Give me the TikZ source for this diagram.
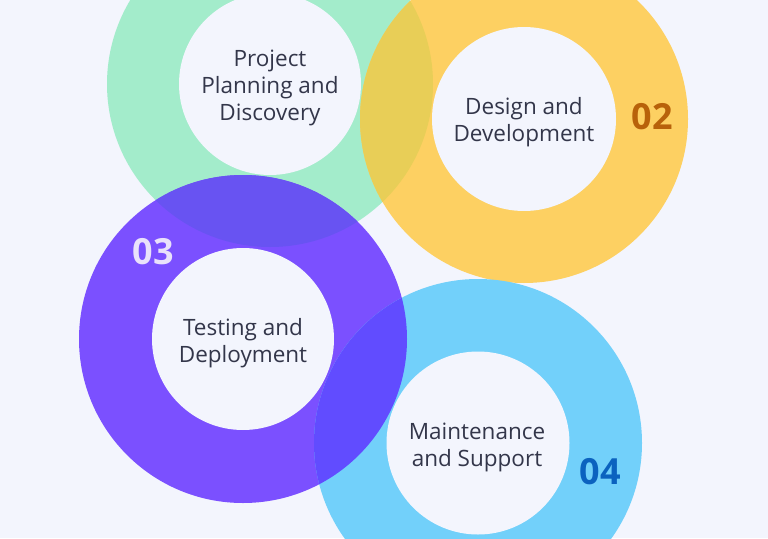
\documentclass[tikz,border=0pt]{standalone}
\usepackage{fontspec}
\setmainfont{Open Sans}
\definecolor{bg}{HTML}{F3F5FD}
\definecolor{ringgreen}{HTML}{A3ECCB}
\definecolor{ringyellow}{HTML}{FDD062}
\definecolor{ringpurple}{HTML}{7B50FF}
\definecolor{ringblue}{HTML}{72D0FA}
\definecolor{ovgy}{HTML}{E8CE57}
\definecolor{ovgp}{HTML}{6853F2}
\definecolor{ovpb}{HTML}{614CFF}
\definecolor{txt}{HTML}{33364A}
\definecolor{numorange}{HTML}{B8620A}
\definecolor{numlight}{HTML}{E9E1FB}
\definecolor{numblue}{HTML}{0B62BF}
\begin{document}
\begin{tikzpicture}[x=1pt,y=-1pt,
  steplabel/.style={align=center,text=txt,font=\fontsize{22.5}{27}\selectfont,inner sep=0pt},
  stepnum/.style={font=\fontsize{36}{36}\selectfont\bfseries,inner sep=0pt}]
\fill[bg] (0,0) rectangle (768,538);
\useasboundingbox (0,0) rectangle (768,538);
% centres
\coordinate (cg) at (270,84);
\coordinate (cy) at (524,119);
\coordinate (cp) at (243,339);
\coordinate (cb) at (478,443);
% outer discs
\fill[ringgreen] (cg) circle[radius=163pt];
\fill[ringyellow] (cy) circle[radius=164pt];
\fill[ringpurple] (cp) circle[radius=164pt];
\fill[ringblue] (cb) circle[radius=164pt];
% overlaps
\begin{scope}
  \clip (cg) circle[radius=163pt];
  \fill[ovgy] (cy) circle[radius=164pt];
  \fill[ovgp] (cp) circle[radius=164pt];
\end{scope}
\begin{scope}
  \clip (cp) circle[radius=164pt];
  \fill[ovpb] (cb) circle[radius=164pt];
\end{scope}
% inner holes
\fill[bg] (cg) circle[radius=91pt];
\fill[bg] (cy) circle[radius=92pt];
\fill[bg] (cp) circle[radius=91pt];
\fill[bg] (cb) circle[radius=91.5pt];
% labels
\node[steplabel] (l1) at (270,88) {Project\\Planning and\\Discovery};
\node[steplabel] (l2) at (524,122.5) {Design and\\Development};
\node[steplabel] (l3) at (243,343) {Testing and\\Deployment};
\node[steplabel] (l4) at (477,447.5) {Maintenance\\and Support};
\node[stepnum,text=numorange] (n2) at (652,117) {02};
\node[stepnum,text=numlight] (n3) at (153,252) {03};
\node[stepnum,text=numblue] (n4) at (600,472) {04};
\end{tikzpicture}
\end{document}
